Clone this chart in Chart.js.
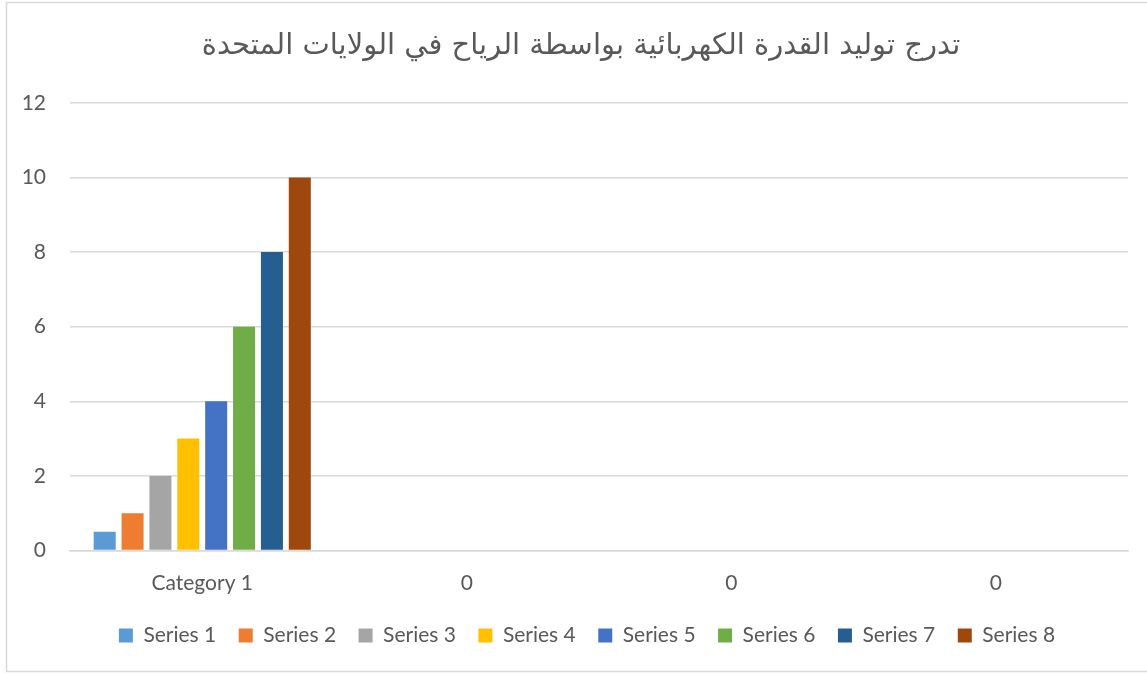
<!DOCTYPE html>
<html>
<head>
<meta charset="utf-8">
<script src="https://cdn.jsdelivr.net/npm/chart.js@4/dist/chart.umd.min.js"></script>
<style>
  html, body { margin: 0; padding: 0; background: #fff; }
  #wrap { width: 1147px; height: 674px; position: relative; }
</style>
</head>
<body>
<div id="wrap"><canvas id="c" width="1147" height="674"></canvas></div>
<script>
const titleText = 'تدرج توليد القدرة الكهربائية بواسطة الرياح في الولايات المتحدة';
const categories = ['Category 1', '0', '0', '0'];
const seriesNames = ['Series 1', 'Series 2', 'Series 3', 'Series 4', 'Series 5', 'Series 6', 'Series 7', 'Series 8'];
const series1 = [0.5, null, null, null];
const series2 = [1, null, null, null];
const series3 = [2, null, null, null];
const series4 = [3, null, null, null];
const series5 = [4, null, null, null];
const series6 = [6, null, null, null];
const series7 = [8, null, null, null];
const series8 = [10, null, null, null];
const colours = ['#5B9BD5', '#ED7D31', '#A5A5A5', '#FFC000', '#4472C4', '#70AD47', '#255E91', '#9E480E'];

const allSeries = [series1, series2, series3, series4, series5, series6, series7, series8];
const textColour = '#595959';
const fontFam = 'Lato, "Open Sans", sans-serif';

// light frame round the whole chart
const frame = {
  id: 'frame',
  afterDraw(chart) {
    const ctx = chart.ctx;
    ctx.save();
    ctx.strokeStyle = '#D9D9D9';
    ctx.lineWidth = 1.5;
    ctx.strokeRect(6.5, 2.5, 1150, 669);
    ctx.restore();
  }
};

// title and legend sit a bit right of the plot centre in the original
const nudge = {
  id: 'nudge',
  afterLayout(chart) {
    if (chart.titleBlock) { chart.titleBlock.left += 17; chart.titleBlock.right += 17; }
    if (chart.legend) { chart.legend.left += 23; chart.legend.right += 23; }
  }
};

new Chart(document.getElementById('c'), {
  type: 'bar',
  data: {
    labels: categories,
    datasets: allSeries.map((vals, i) => ({
      label: seriesNames[i],
      data: vals,
      backgroundColor: colours[i],
      borderWidth: 0,
      categoryPercentage: 0.843,
      barPercentage: 0.79
    }))
  },
  options: {
    responsive: false,
    animation: false,
    layout: { padding: { left: 0, right: 19, top: 0, bottom: 18 } },
    plugins: {
      title: {
        display: true,
        text: titleText,
        color: textColour,
        font: { family: '"DejaVu Sans", sans-serif', size: 29, weight: 'normal' },
        padding: { top: 29, bottom: 39 }
      },
      legend: {
        position: 'bottom',
        labels: {
          color: textColour,
          font: { family: fontFam, size: 21 },
          boxWidth: 14,
          boxHeight: 14,
          padding: 22.5
        }
      },
      tooltip: { enabled: false }
    },
    scales: {
      x: {
        grid: { display: false },
        border: { color: '#D9D9D9', width: 1.5 },
        ticks: { color: textColour, font: { family: fontFam, size: 21 }, padding: 12, maxRotation: 0 },
        afterFit(scale) { scale.height = 52; }
      },
      y: {
        min: 0,
        max: 12,
        ticks: { stepSize: 2, color: textColour, font: { family: fontFam, size: 21 }, padding: 24 },
        grid: { color: '#D9D9D9', lineWidth: 1.5, drawTicks: false },
        border: { display: false },
        afterFit(scale) { scale.width = 70; }
      }
    }
  },
  plugins: [frame, nudge]
});
</script>
</body>
</html>
